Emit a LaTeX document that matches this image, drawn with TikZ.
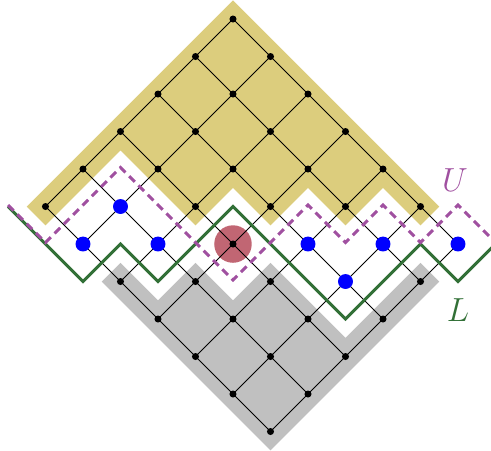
\documentclass[tikz,border=0pt]{standalone}
\usepackage{tikz}
\usetikzlibrary{positioning}
\usepackage{xcolor}
\definecolor{upperfill}{RGB}{220,205,125}
\definecolor{lowerfill}{RGB}{192,192,192}
\definecolor{upath}{RGB}{160,80,160}
\definecolor{lpath}{RGB}{50,112,55}
\definecolor{redspot}{RGB}{193,102,115}

\begin{document}
\begin{tikzpicture}[x=0.75cm, y=0.75cm,
  dot/.style={circle, fill=black, inner sep=0pt, minimum size=4pt},
  bluedot/.style={circle, fill=blue, inner sep=0pt, minimum size=8.5pt},
  grid line/.style={line width=0.5pt},
  label text/.style={font=\LARGE, scale=1.1}]
  \useasboundingbox (-6.213,-5.493) rectangle (6.88,6.507);
  % the two shaded regions
  \fill[upperfill] (0,6.5) -- (5.5,1) -- (5,0.5) -- (4,1.5) -- (3,0.5) -- (2,1.5)
    -- (1,0.5) -- (0,1.5) -- (-1,0.5) -- (-3,2.5) -- (-5,0.5) -- (-5.5,1) -- cycle;
  \fill[lowerfill] (-3.5,-1) -- (-3,-0.5) -- (-2,-1.5) -- (-1,-0.5) -- (0,-1.5)
    -- (1,-0.5) -- (3,-2.5) -- (5,-0.5) -- (5.5,-1) -- (1,-5.5) -- cycle;
  % lattice
  \foreach \a in {0,...,5}
    \foreach \b in {0,...,6}
      \coordinate (v\a\b) at ({\a-\b+1},{\a+\b-5});
  \fill[redspot] (v23) circle (0.5);
  \foreach \a in {0,...,5}
    \draw[grid line] (v\a0) -- (v\a6);
  \foreach \b in {0,...,6}
    \draw[grid line] (v0\b) -- (v5\b);
  % the paths L and U
  \draw[lpath, line width=1.7pt] (-6,1) -- (-4,-1) -- (-3,0) -- (-2,-1) -- (0,1)
    -- (3,-2) -- (5,0) -- (6,-1) -- (7,0);
  \draw[upath, line width=1.7pt, dash pattern=on 4.5pt off 3pt] (-6,1.04) -- (-5,0.04)
    -- (-3,2.04) -- (0,-0.96) -- (2,1.04) -- (3,0.04) -- (4,1.04) -- (5,0.04)
    -- (6,1.04) -- (7,0.04);
  % points
  \foreach \a in {0,...,5}
    \foreach \b in {0,...,6}
      \node (d\a\b) [dot] at (v\a\b) {};
  \foreach \p in {15,05,14,32,41,50,31}
    \node (b\p) [bluedot] at (v\p) {};
  \node (U) [upath, label text] at (5.92,1.71) {$U$};
  \node (L) [lpath, label text] at (6.0,-1.76) {$L$};
\end{tikzpicture}
\end{document}
